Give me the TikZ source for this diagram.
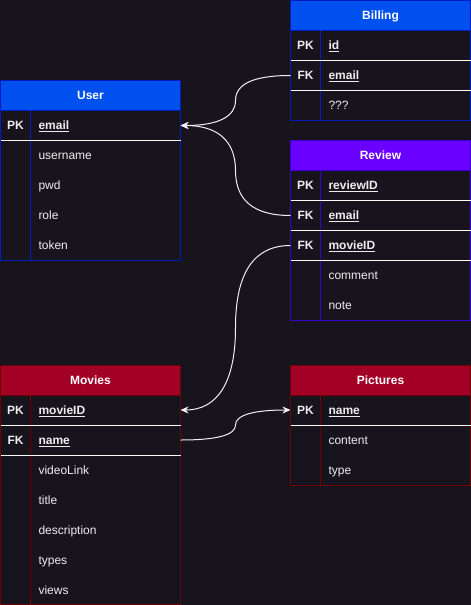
\documentclass[tikz,border=0pt]{standalone}
\usepackage{fontspec}
\setmainfont{Liberation Sans}
\usetikzlibrary{arrows.meta,calc}
\definecolor{bg}{HTML}{18141D}
\definecolor{blueH}{HTML}{0050EF}
\definecolor{blueB}{HTML}{001DBC}
\definecolor{purpleH}{HTML}{6A00FF}
\definecolor{purpleB}{HTML}{3700CC}
\definecolor{redH}{HTML}{A20025}
\definecolor{redB}{HTML}{6F0000}
\definecolor{txt}{HTML}{EDEDED}
\definecolor{edgec}{HTML}{F0F0F0}
\newcommand\erfs{\fontsize{12}{14}\selectfont}
\tikzset{
 hdr/.style={rectangle, anchor=north west, minimum width=180pt, minimum height=30pt, inner sep=0pt, outer sep=0pt, font=\erfs\bfseries, text=white, line width=1pt, text height=8.6pt, text depth=0pt},
 bodybox/.style={rectangle, anchor=north west, minimum width=180pt, inner sep=0pt, outer sep=0pt, line width=1pt},
 rowbox/.style={rectangle, anchor=north west, minimum width=180pt, minimum height=30pt, inner sep=0pt, outer sep=0pt},
 keylbl/.style={font=\erfs\bfseries, text=txt, inner sep=0pt, outer sep=0pt, text height=8.6pt, text depth=0pt},
 fld/.style={anchor=west, font=\erfs, text=txt, inner sep=0pt, outer sep=0pt, text height=8.6pt, text depth=0pt},
 keyfld/.style={fld, font=\erfs\bfseries},
 sepline/.style={draw=white, line width=1pt},
 conn/.style={draw=edgec, line width=1pt},
 arr/.style={-{Stealth[length=8pt,width=7pt,inset=2.5pt]}},
}
\begin{document}
\begin{tikzpicture}[x=1pt,y=-1pt]
\useasboundingbox[fill=bg] (0,0) rectangle (471,605);

% ---------- Billing ----------
\node[hdr, fill=blueH, draw=blueB] (billH) at (290.5,0.5) {Billing};
\node[bodybox, draw=blueB, minimum height=90pt] (billB) at (billH.south west) {};
\draw[blueB, line width=1pt] ([xshift=30pt]billB.north west) -- ([xshift=30pt]billB.south west);
\node[rowbox] (bId) at (billB.north west) {};
\node[rowbox] (bEmail) at (bId.south west) {};
\node[rowbox] (bQ) at (bEmail.south west) {};
\node[keylbl] at ([xshift=15pt]bId.west) {PK};
\node[keyfld] at ([xshift=38pt]bId.west) {\underline{id}};
\node[keylbl] at ([xshift=15pt]bEmail.west) {FK};
\node[keyfld] at ([xshift=38pt]bEmail.west) {\underline{email}};
\node[fld] at ([xshift=38pt]bQ.west) {???};
\draw[sepline] (bId.south west) -- (bId.south east);
\draw[sepline] (bEmail.south west) -- (bEmail.south east);

% ---------- User ----------
\node[hdr, fill=blueH, draw=blueB] (userH) at (0.5,80.5) {User};
\node[bodybox, draw=blueB, minimum height=150pt] (userB) at (userH.south west) {};
\draw[blueB, line width=1pt] ([xshift=30pt]userB.north west) -- ([xshift=30pt]userB.south west);
\node[rowbox] (uEmail) at (userB.north west) {};
\node[rowbox] (uName) at (uEmail.south west) {};
\node[rowbox] (uPwd) at (uName.south west) {};
\node[rowbox] (uRole) at (uPwd.south west) {};
\node[rowbox] (uToken) at (uRole.south west) {};
\node[keylbl] at ([xshift=15pt]uEmail.west) {PK};
\node[keyfld] at ([xshift=38pt]uEmail.west) {\underline{email}};
\node[fld] at ([xshift=38pt]uName.west) {username};
\node[fld] at ([xshift=38pt]uPwd.west) {pwd};
\node[fld] at ([xshift=38pt]uRole.west) {role};
\node[fld] at ([xshift=38pt]uToken.west) {token};
\draw[sepline] (uEmail.south west) -- (uEmail.south east);

% ---------- Review ----------
\node[hdr, fill=purpleH, draw=purpleB] (revH) at (290.5,140.5) {Review};
\node[bodybox, draw=purpleB, minimum height=150pt] (revB) at (revH.south west) {};
\draw[purpleB, line width=1pt] ([xshift=30pt]revB.north west) -- ([xshift=30pt]revB.south west);
\node[rowbox] (rId) at (revB.north west) {};
\node[rowbox] (rEmail) at (rId.south west) {};
\node[rowbox] (rMovie) at (rEmail.south west) {};
\node[rowbox] (rComment) at (rMovie.south west) {};
\node[rowbox] (rNote) at (rComment.south west) {};
\node[keylbl] at ([xshift=15pt]rId.west) {PK};
\node[keyfld] at ([xshift=38pt]rId.west) {\underline{reviewID}};
\node[keylbl] at ([xshift=15pt]rEmail.west) {FK};
\node[keyfld] at ([xshift=38pt]rEmail.west) {\underline{email}};
\node[keylbl] at ([xshift=15pt]rMovie.west) {FK};
\node[keyfld] at ([xshift=38pt]rMovie.west) {\underline{movieID}};
\node[fld] at ([xshift=38pt]rComment.west) {comment};
\node[fld] at ([xshift=38pt]rNote.west) {note};
\draw[sepline] (rId.south west) -- (rId.south east);
\draw[sepline] (rEmail.south west) -- (rEmail.south east);
\draw[sepline] (rMovie.south west) -- (rMovie.south east);

% ---------- Movies ----------
\node[hdr, fill=redH, draw=redB] (movH) at (0.5,365) {Movies};
\node[bodybox, draw=redB, minimum height=209.5pt] (movB) at (movH.south west) {};
\draw[redB, line width=1pt] ([xshift=30pt]movB.north west) -- ([xshift=30pt]movB.south west);
\node[rowbox] (mId) at (movB.north west) {};
\node[rowbox] (mName) at (mId.south west) {};
\node[rowbox] (mLink) at (mName.south west) {};
\node[rowbox] (mTitle) at (mLink.south west) {};
\node[rowbox] (mDesc) at (mTitle.south west) {};
\node[rowbox] (mTypes) at (mDesc.south west) {};
\node[rowbox] (mViews) at (mTypes.south west) {};
\node[keylbl] at ([xshift=15pt]mId.west) {PK};
\node[keyfld] at ([xshift=38pt]mId.west) {\underline{movieID}};
\node[keylbl] at ([xshift=15pt]mName.west) {FK};
\node[keyfld] at ([xshift=38pt]mName.west) {\underline{name}};
\node[fld] at ([xshift=38pt]mLink.west) {videoLink};
\node[fld] at ([xshift=38pt]mTitle.west) {title};
\node[fld] at ([xshift=38pt]mDesc.west) {description};
\node[fld] at ([xshift=38pt]mTypes.west) {types};
\node[fld] at ([xshift=38pt]mViews.west) {views};
\draw[sepline] (mId.south west) -- (mId.south east);
\draw[sepline] (mName.south west) -- (mName.south east);

% ---------- Pictures ----------
\node[hdr, fill=redH, draw=redB] (picH) at (290.5,365) {Pictures};
\node[bodybox, draw=redB, minimum height=90pt] (picB) at (picH.south west) {};
\draw[redB, line width=1pt] ([xshift=30pt]picB.north west) -- ([xshift=30pt]picB.south west);
\node[rowbox] (pName) at (picB.north west) {};
\node[rowbox] (pContent) at (pName.south west) {};
\node[rowbox] (pType) at (pContent.south west) {};
\node[keylbl] at ([xshift=15pt]pName.west) {PK};
\node[keyfld] at ([xshift=38pt]pName.west) {\underline{name}};
\node[fld] at ([xshift=38pt]pContent.west) {content};
\node[fld] at ([xshift=38pt]pType.west) {type};
\draw[sepline] (pName.south west) -- (pName.south east);

% ---------- Connectors ----------
\draw[conn, arr] (bEmail.west) .. controls +(-36.67,0) and +(0,-16.67) .. ($(bEmail.west)!.5!(uEmail.east)$)
  .. controls +(0,16.67) and +(36.67,0) .. (uEmail.east);
\draw[conn, arr] (rEmail.west) .. controls +(-36.67,0) and +(0,30) .. ($(rEmail.west)!.5!(uEmail.east)$)
  .. controls +(0,-30) and +(36.67,0) .. (uEmail.east);
\draw[conn, arr] (rMovie.west) .. controls +(-36.67,0) and +(0,-55) .. ($(rMovie.west)!.5!(mId.east)$)
  .. controls +(0,55) and +(36.67,0) .. (mId.east);
\draw[conn, arr] (mName.east) .. controls +(36.67,0) and +(0,10) .. ($(mName.east)!.5!(pName.west)$)
  .. controls +(0,-10) and +(-36.67,0) .. (pName.west);
\end{tikzpicture}
\end{document}
